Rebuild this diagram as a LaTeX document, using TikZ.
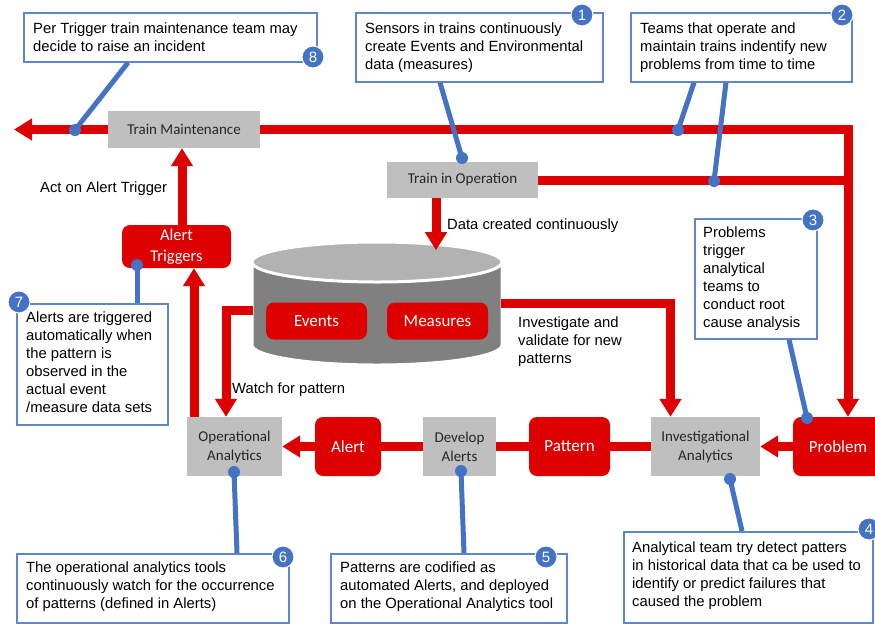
\documentclass[tikz,border=0pt]{standalone}
\usepackage{fontspec}
\setmainfont{Liberation Sans}
\newfontfamily\calfont{Carlito}
\usetikzlibrary{arrows.meta}
\definecolor{rd}{RGB}{222,0,0}
\definecolor{bl}{RGB}{68,114,196}
\definecolor{gb}{RGB}{191,191,191}
\definecolor{bx}{RGB}{95,135,200}
\definecolor{cylbody}{RGB}{128,128,128}
\definecolor{cyltop}{RGB}{178,178,178}
\begin{document}
\begin{tikzpicture}[x=1pt,y=-1pt,
 graybox/.style={fill=gb, draw=none, font=\calfont\fontsize{15}{19}\selectfont, text=black!85, align=center, inner sep=0pt},
 redbox/.style={fill=rd, draw=none, rounded corners=8pt, text=white, font=\calfont\fontsize{17}{21}\selectfont, align=center, inner sep=0pt},
 callbox/.style={draw=bx, line width=1.6pt, fill=white, inner sep=0pt, anchor=north west},
 calltext/.style={font=\fontsize{14.8}{18}\selectfont, align=left, inner sep=0pt, anchor=west},
 badge/.style={circle, fill=bl, draw=white, line width=1pt, text=white, minimum size=22pt, inner sep=0pt, font=\fontsize{15}{15}\selectfont},
 flow/.style={draw=rd, line width=9pt},
 flowarrow/.style={draw=rd, line width=9pt, -{Triangle[length=18pt,width=21pt]}},
 lead/.style={draw=bl, line width=5pt},
 dot/.style={circle, fill=bl, minimum size=12pt, inner sep=0pt},
 lbl/.style={font=\fontsize{14.8}{18}\selectfont, align=left, anchor=west, inner sep=0pt}]
\clip (0,0) rectangle (875,625);
\fill[white] (0,0) rectangle (875,625);

% cylinder
\fill[cylbody, draw=white, line width=3pt] (252,262) -- (252,345) arc[start angle=180, end angle=360, x radius=125, y radius=-20] -- (502,262) -- cycle;
\fill[cyltop, draw=white, line width=3pt] (377,262) ellipse[x radius=125, y radius=20];
\coordinate (cylW) at (253,310);
\coordinate (cylE) at (501,303.5);

% main boxes
\node[graybox, minimum width=152pt, minimum height=37pt] (tm) at (184,129.5) {Train Maintenance};
\node[graybox, minimum width=151pt, minimum height=36pt] (tio) at (462.5,180) {Train in Operation};
\node[redbox, minimum width=101pt, minimum height=37pt] (ev) at (316.5,321) {Events};
\node[redbox, minimum width=101pt, minimum height=37pt] (me) at (437.5,321) {Measures};
\node[redbox, minimum width=109pt, minimum height=43pt, font=\calfont\fontsize{16.5}{21}\selectfont] (at) at (176.5,246.5) {Alert\\Triggers};
\node[graybox, minimum width=95pt, minimum height=59pt] (opa) at (234.5,446.5) {Operational\\Analytics};
\node[redbox, minimum width=66pt, minimum height=59pt] (al) at (348,446.5) {Alert};
\node[graybox, minimum width=73pt, minimum height=59pt] (dev) at (459.5,446.5) {Develop\\Alerts};
\node[redbox, minimum width=81pt, minimum height=59pt] (pat) at (569.5,446.5) {Pattern};
\node[graybox, minimum width=109pt, minimum height=59pt] (inv) at (705.5,446.5) {Investigational\\Analytics};
\node[redbox, minimum width=90pt, minimum height=59pt, text width=82pt] (prob) at (838,446.5) {Problem};

% flows
\coordinate (tl) at (14,129.5);
\coordinate (corner) at (848,129.5);
\draw[flowarrow] (tm.west) -- (tl);
\draw[flowarrow] (tm.east) -- (corner) -- (corner |- prob.north);
\draw[flow] (tio.east) -- (tio.east -| corner);
\draw[flowarrow] ([xshift=-26.5pt]tio.south) -- ++(0,52);
\draw[flowarrow] (cylW) -| ([xshift=-8.5pt]opa.north);
\draw[flowarrow] (cylE) -| ([xshift=-35pt]inv.north);
\draw[flowarrow] ([xshift=-40.5pt]opa.north) -- ([xshift=17.5pt]at.south);
\draw[flowarrow] ([xshift=5.5pt]at.north) -- ([xshift=-2pt]tm.south);
\draw[flowarrow] (prob.west) -- (inv.east);
\draw[flow] (inv.west) -- (pat.east);
\draw[flow] (pat.west) -- (dev.east);
\draw[flow] (dev.west) -- (al.east);
\draw[flowarrow] (al.west) -- (opa.east);

% labels
\node[lbl] (l1) at (40,189) {Act on Alert Trigger};
\node[lbl] (l2) at (447,226) {Data created continuously};
\node[lbl] (l3) at (232,390) {Watch for pattern};
\node[lbl, anchor=north west] (l4) at (518,317) {Investigate and\\validate for new\\patterns};

% callouts
\node[callbox, minimum width=293pt, minimum height=49pt] (c8) at (23,12) {};
\node[calltext] (t8) at ([xshift=10pt]c8.west) {Per Trigger train maintenance team may\\decide to raise an incident};
\node[callbox, minimum width=247pt, minimum height=69pt] (c1) at (355,12) {};
\node[calltext] (t1) at ([xshift=10pt]c1.west) {Sensors in trains continuously\\create Events and Environmental\\data (measures)};
\node[callbox, minimum width=221pt, minimum height=69pt] (c2) at (630,12) {};
\node[calltext] (t2) at ([xshift=10pt]c2.west) {Teams that operate and\\maintain trains indentify new\\problems from time to time};
\node[callbox, minimum width=122pt, minimum height=120pt] (c3) at (694,218) {};
\node[calltext] (t3) at ([xshift=9pt]c3.west) {Problems\\trigger\\analytical\\teams to\\conduct root\\cause analysis};
\node[callbox, minimum width=249pt, minimum height=91pt] (c4) at (623,531) {};
\node[calltext] (t4) at ([xshift=9pt,yshift=2pt]c4.west) {Analytical team try detect patters\\in historical data that ca be used to\\identify or predict failures that\\caused the problem};
\node[callbox, minimum width=236pt, minimum height=69pt] (c5) at (330,553) {};
\node[calltext] (t5) at ([xshift=10pt,yshift=2pt]c5.west) {Patterns are codified as\\automated Alerts, and deployed\\on the Operational Analytics tool};
\node[callbox, minimum width=272pt, minimum height=69pt] (c6) at (16,553) {};
\node[calltext] (t6) at ([xshift=10pt,yshift=2pt]c6.west) {The operational analytics tools\\continuously watch for the occurrence\\of patterns (defined in Alerts)};
\node[callbox, minimum width=151pt, minimum height=121pt] (c7) at (16,303) {};
\node[calltext] (t7) at ([xshift=10pt,yshift=2pt]c7.west) {Alerts are triggered\\automatically when\\the pattern is\\observed in the\\actual event\\/measure data sets};

% leads
\node[dot] (d8) at (75,130) {};
\node[dot] (d1) at (462,158) {};
\node[dot] (d2a) at (678,130) {};
\node[dot] (d2b) at (714,181) {};
\node[dot] (d3) at (807,418) {};
\node[dot] (d4) at (730,479) {};
\node[dot] (d5) at (461,471) {};
\node[dot] (d6) at (234,472) {};
\node[dot] (d7) at (137,265) {};
\draw[lead] ([xshift=105pt]c8.south west) -- (d8.center);
\draw[lead] ([xshift=85pt]c1.south west) -- (d1.center);
\draw[lead] ([xshift=64pt]c2.south west) -- (d2a.center);
\draw[lead] ([xshift=96pt]c2.south west) -- (d2b.center);
\draw[lead] ([xshift=95pt]c3.south west) -- (d3.center);
\draw[lead] ([xshift=119pt]c4.north west) -- (d4.center);
\draw[lead] ([xshift=134pt]c5.north west) -- (d5.center);
\draw[lead] ([xshift=221pt]c6.north west) -- (d6.center);
\draw[lead] ([xshift=121pt]c7.north west) -- (d7.center);

% badges
\node[badge] (b8) at (313,57) {8};
\node[badge] (b1) at (582,15) {1};
\node[badge] (b2) at (842,15) {2};
\node[badge] (b3) at (813,220) {3};
\node[badge] (b4) at (869,529) {4};
\node[badge] (b5) at (546,557) {5};
\node[badge] (b6) at (283,557) {6};
\node[badge] (b7) at (19,302) {7};
\end{tikzpicture}
\end{document}
